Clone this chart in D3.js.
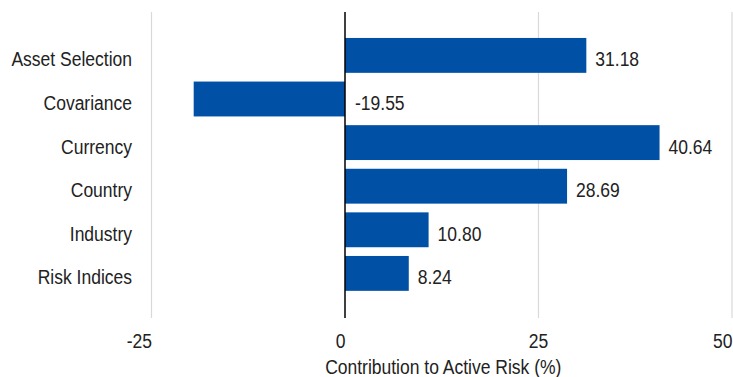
<!DOCTYPE html>
<meta charset="utf-8">
<head>
    <script src="https://d3js.org/d3.v7.min.js"></script>
    <style>
        body {
            margin: 0;
            font: 20px "Liberation Sans", Arial, sans-serif;
        }
        svg text {
            fill: #222;
        }
    </style>
</head>
<body>
<div id="chart"></div>
<script>
    var categories = ["Asset Selection", "Covariance", "Currency", "Country", "Industry", "Risk Indices"];
    var values = [31.18, -19.55, 40.64, 28.69, 10.80, 8.24];
    var tickValues = [-25, 0, 25, 50];
    var axisTitle = "Contribution to Active Risk (%)";

    var data = categories.map(function(c, i) { return {name: c, value: values[i]}; });

    var width = 733, height = 377;
    var plotTop = 12, plotBottom = 318;
    var narrow = 0.875; // no condensed face installed, squeeze horizontally instead

    function at(px, py) {
        return "translate(" + px + "," + py + ") scale(" + narrow + ",1)";
    }

    var svg = d3.select("#chart").append("svg")
        .attr("width", width)
        .attr("height", height);

    var x = d3.scaleLinear().domain([-25, 50]).range([151.5, 732]);
    var y = d3.scaleBand().domain(categories).range([33.6, 295.2])
        .paddingInner(0.2).paddingOuter(0.1);

    // gridlines
    svg.append("g").selectAll("line")
        .data(tickValues.filter(function(d) { return d !== 0; }))
        .enter().append("line")
        .attr("x1", function(d) { return x(d); })
        .attr("x2", function(d) { return x(d); })
        .attr("y1", plotTop)
        .attr("y2", plotBottom)
        .attr("stroke", "#d9d9d9")
        .attr("stroke-width", 1.2);

    // bars
    svg.append("g").selectAll("rect")
        .data(data)
        .enter().append("rect")
        .attr("x", function(d) { return x(Math.min(0, d.value)); })
        .attr("width", function(d) { return Math.abs(x(d.value) - x(0)); })
        .attr("y", function(d) { return y(d.name); })
        .attr("height", y.bandwidth())
        .attr("fill", "#0051a5");

    // zero line
    svg.append("line")
        .attr("x1", x(0)).attr("x2", x(0))
        .attr("y1", plotTop).attr("y2", plotBottom)
        .attr("stroke", "#000")
        .attr("stroke-width", 1.5);

    // value labels
    svg.append("g").selectAll("text")
        .data(data)
        .enter().append("text")
        .attr("transform", function(d) {
            var px = d.value < 0 ? x(0) + 10 : x(d.value) + 9;
            return at(px, y(d.name) + y.bandwidth() / 2 + 11);
        })
        .text(function(d) { return d.value.toFixed(2); });

    // category labels
    svg.append("g").selectAll("text")
        .data(categories)
        .enter().append("text")
        .attr("transform", function(d) { return at(132, y(d) + y.bandwidth() / 2 + 11); })
        .style("text-anchor", "end")
        .text(function(d) { return d; });

    // tick labels
    svg.append("g").selectAll("text")
        .data(tickValues)
        .enter().append("text")
        .attr("transform", function(d) { return at(d === 25 ? x(d) : x(d) + 0.5, 348); })
        .style("text-anchor", function(d) { return d === 25 ? "middle" : "end"; })
        .text(function(d) { return d; });

    svg.append("text")
        .attr("transform", at((x.range()[0] + x.range()[1]) / 2 + 1.5, 374))
        .style("text-anchor", "middle")
        .text(axisTitle);
</script>
</body>
